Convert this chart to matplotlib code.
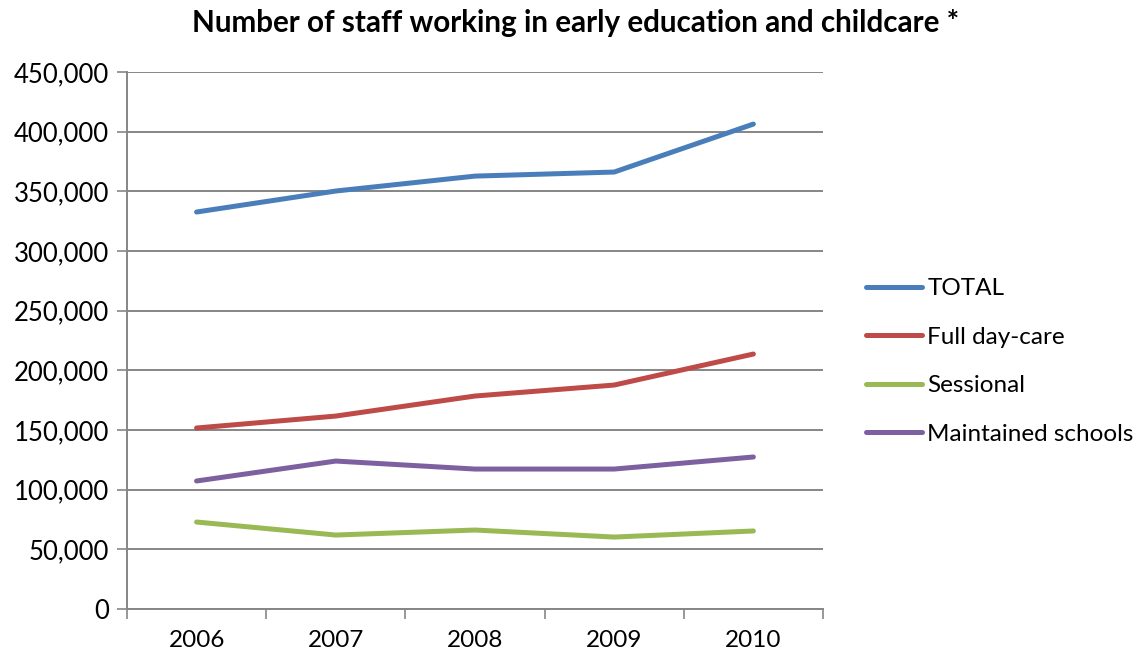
import numpy as np
import matplotlib.pyplot as plt
from matplotlib.ticker import FuncFormatter

years = ['2006', '2007', '2008', '2009', '2010']
total = [332700, 350300, 362800, 366200, 406400]
full_day_care = [151700, 161700, 178500, 187700, 213700]
sessional = [72900, 62000, 66200, 60300, 65400]
maintained = [107300, 124000, 117300, 117300, 127400]

series = [
    ('TOTAL', total, '#4a7ebb'),
    ('Full day-care', full_day_care, '#be4b48'),
    ('Sessional', sessional, '#98b954'),
    ('Maintained schools', maintained, '#7d60a0'),
]

plt.rcParams['font.family'] = ['Lato', 'DejaVu Sans']
grid_col = '#868686'

fig = plt.figure(figsize=(11.47, 6.55), dpi=100)
ax = fig.add_axes([0.1107, 0.0702, 0.6068, 0.8198])

x = np.arange(1, len(years) + 1)
for name, vals, col in series:
    ax.plot(x, vals, color=col, lw=3.6, solid_capstyle='round', label=name)

ax.set_xlim(0.5, len(years) + 0.5)
ax.set_ylim(0, 450000)
ax.set_yticks(np.arange(0, 450001, 50000))
ax.yaxis.set_major_formatter(FuncFormatter(lambda v, p: f'{int(v):,}'))
ax.yaxis.grid(True, color=grid_col, lw=1.4)
ax.set_axisbelow(True)

# category labels centred, tick marks on the boundaries
ax.set_xticks(x)
ax.set_xticklabels(years)
ax.set_xticks(np.arange(0.5, len(years) + 1), minor=True)
ax.tick_params(axis='x', which='major', length=0, pad=15, labelsize=17.5)
ax.tick_params(axis='x', which='minor', length=7, color=grid_col, width=1.2)
ax.tick_params(axis='y', length=7, color=grid_col, width=1.2, labelsize=18.5, pad=6)

for side in ('top', 'right'):
    ax.spines[side].set_visible(False)
for side in ('left', 'bottom'):
    ax.spines[side].set_color(grid_col)
    ax.spines[side].set_linewidth(1.4)

ax.legend(loc='center left', bbox_to_anchor=(1.045, 0.461), frameon=False,
          borderpad=0, fontsize=17.5, handlelength=2.3, handletextpad=0.2,
          labelspacing=1.13)

fig.text(0.5015, 0.965, 'Number of staff working in early education and childcare *',
         ha='center', va='center', fontsize=21.3, fontweight='bold')

fig.savefig('out.png', dpi=100)
